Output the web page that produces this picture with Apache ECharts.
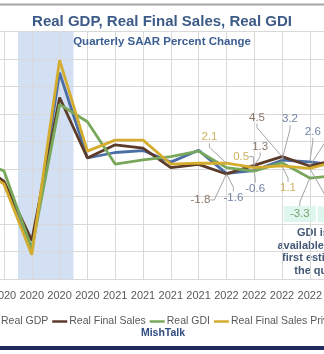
<!DOCTYPE html>
<html><head><meta charset="utf-8">
<script src="https://cdn.jsdelivr.net/npm/echarts@6/dist/echarts.min.js"></script>
<style>
html,body{margin:0;padding:0;width:324px;height:354px;overflow:hidden;background:#fff;position:relative}
#c{position:absolute;left:-188px;top:0;width:700px;height:354px}
</style></head><body><div id="c"></div>
<script>
// ---- data ----
const categories = ['2019 Q4','2020 Q1','2020 Q2','2020 Q3','2020 Q4','2021 Q1','2021 Q2','2021 Q3','2021 Q4','2022 Q1','2022 Q2','2022 Q3','2022 Q4','2023 Q1'];
const realGDP               = [2.6, -5.3, -29.9, 35.0, 4.0, 6.0, 6.7, 2.5, 6.8, -1.6, -0.6, 3.2, 2.6, 1.3];
const realFinalSales        = [3.0, -4.5, -26.0, 26.0, 4.0, 8.8, 7.6, 0.5, 1.7, -1.8, 1.3, 4.5, 1.1, 3.4];
const realGDI               = [3.0, -0.7, -29.0, 23.5, 17.2, 1.8, 3.3, 4.5, 6.5, 0.5, -0.8, 2.3, -3.3, -2.3];
const realFinalSalesPrivate = [1.5, -5.5, -31.2, 39.6, 6.5, 10.5, 10.5, 1.8, 2.1, 2.1, 0.5, 1.1, 0.2, 2.9];
const seriesNames = ['Real GDP','Real Final Sales','Real GDI','Real Final Sales Private Domestic Purchasers'];
const yMin = -40, yMax = 50, yStep = 10;
const recessionQuarters = ['2020 Q2','2020 Q3'];
const titleText = 'Real GDP, Real Final Sales, Real GDI';
const subtitleText = 'Quarterly SAAR Percent Change';
const annotationLines = ['GDI is not','available with the','first estimate of','the quarter'];
const sourceText = 'MishTalk';
// labelled points: series index, quarter
const labelledPoints = [
  [0,'2022 Q1'],[0,'2022 Q2'],[0,'2022 Q3'],[0,'2022 Q4'],
  [1,'2022 Q1'],[1,'2022 Q2'],[1,'2022 Q3'],[1,'2022 Q4'],
  [3,'2022 Q1'],[3,'2022 Q2'],[3,'2022 Q3'],[3,'2022 Q4'],
  [2,'2022 Q4'],[2,'2023 Q1']
];

// ---- layout / style ----
const OFF = 188;
const labelOffsets = [
  [7,24],[1,18],[8,-41],[3,-30],
  [-26,26],[6,-19],[-25,-39],[30,-28],
  [-17,-26],[-13,-11],[6,22],[28,28],
  [-10,36],[-4,39]
];
const reg = "'Liberation Sans',Arial,sans-serif";
const colors = ['#4b6ea6','#5c3b28','#79a85c','#d4ad2f'];
const labelColors = ['#4f6790','#6b5444','#5b8f4f','#c2a03a'];
const values = [realGDP, realFinalSales, realGDI, realFinalSalesPrivate];

const lineSeries = values.map((arr,k)=>({
  name: seriesNames[k], type:'line', data: arr, symbol:'none', showSymbol:false,
  lineStyle:{width:2.8, color:colors[k]}, itemStyle:{color:colors[k]},
  z: 3+k, silent:true
}));

const labelData = labelledPoints.map(([s,c])=>{
  const i = categories.indexOf(c);
  const v = values[s][i];
  const lab = {show:true, formatter: v.toFixed(1), color: labelColors[s], fontFamily: reg, fontSize: 11.5};
  if (s === 2) { lab.backgroundColor = '#d6f4ea'; lab.padding = [2,6]; }
  return {value:[i, v], label: lab};
});

const rs = categories.indexOf(recessionQuarters[0]) - 0.5;
const re = categories.indexOf(recessionQuarters[1]) + 0.5;

const chart = echarts.init(document.getElementById('c'));
chart.setOption({
  animation:false,
  backgroundColor:'#ffffff',
  title:[
    {text:titleText, left:'center', top:14, padding:0,
     textStyle:{fontFamily:reg, fontWeight:'bold', fontSize:15, color:'#3d5b87'}},
    {text:subtitleText, left:'center', top:36, padding:0,
     textStyle:{fontFamily:reg, fontWeight:'bold', fontSize:11.5, color:'#3b5f93'}}
  ],
  legend:{data:seriesNames, left:167, top:311, icon:'rect', itemWidth:15, itemHeight:2.5, itemGap:4,
    width:600, selectedMode:false, textStyle:{color:'#595959', fontFamily:reg, fontSize:10.5, padding:[0,0,0,-3]}},
  grid:{left:164.2, right:174.4, top:31.5, bottom:75, containLabel:false, outerBoundsMode:'none'},
  xAxis:[
    {type:'category', data:categories, boundaryGap:false,
     axisLine:{show:false}, axisTick:{show:false},
     axisLabel:{interval:0, formatter:v=>v.slice(0,4), color:'#595959', fontFamily:reg, fontSize:11, margin:11},
     splitLine:{show:true, interval:0, lineStyle:{color:'#d9d9d9', width:1}}},
    {type:'value', min:0, max:categories.length-1, show:false, splitLine:{show:false}}
  ],
  yAxis:{type:'value', min:yMin, max:yMax, interval:yStep,
    axisLine:{show:false}, axisTick:{show:false},
    axisLabel:{color:'#595959', fontFamily:reg, fontSize:11},
    splitLine:{lineStyle:{color:'#d9d9d9', width:1}}},
  series:[
    {type:'custom', xAxisIndex:1, yAxisIndex:0, z:-1, silent:true, data:[[rs, re]],
     renderItem:(p, api)=>{
       const a = api.coord([api.value(0), yMax]);
       const b = api.coord([api.value(1), yMin]);
       return {type:'rect', shape:{x:a[0], y:a[1], width:b[0]-a[0], height:b[1]-a[1]}, style:{fill:'#d3dff2'}};
     }},
    ...lineSeries,
    {type:'scatter', data:labelData, symbol:'circle', symbolSize:1, z:10, silent:true,
     itemStyle:{color:'rgba(0,0,0,0)'},
     labelLine:{show:true, length2:4, lineStyle:{color:'#a5a5a5', width:1}},
     labelLayout:(params)=>{
       const o = labelOffsets[params.dataIndex];
       const r = params.rect;
       return {x: r.x + r.width/2 + o[0], y: r.y + r.height/2 + o[1], align:'center', verticalAlign:'middle'};
     }}
  ],
  graphic:[
    {type:'rect', shape:{x:0, y:3.5, width:700, height:2}, style:{fill:'#a6a6a6'}, silent:true},
    {type:'rect', shape:{x:0, y:346, width:700, height:4}, style:{fill:'#1f2b5e'}, silent:true},
    {type:'text', x:163+OFF, y:333, silent:true,
     style:{text:sourceText, align:'center', verticalAlign:'middle', fontFamily:reg, fontWeight:'bold', fontSize:10.5, fill:'#2f4b80'}},
    {type:'text', x:323+OFF, y:227, silent:true,
     style:{text:annotationLines.join('\n'), align:'center', verticalAlign:'top', lineHeight:12.5, fontFamily:reg, fontWeight:'bold', fontSize:11, fill:'#435876'}}
  ]
});
</script></body></html>
